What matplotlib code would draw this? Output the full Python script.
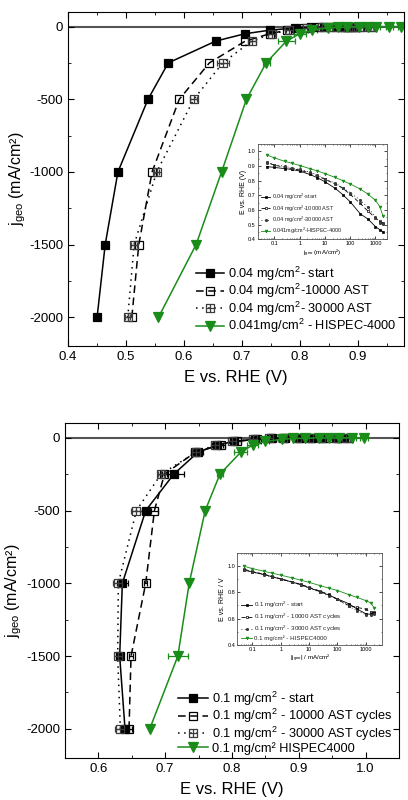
import numpy as np
import matplotlib
import matplotlib.pyplot as plt
from matplotlib.path import Path
from matplotlib.ticker import MultipleLocator, LogLocator, NullFormatter

plt.rcParams['font.family'] = ['Liberation Sans', 'DejaVu Sans']
plt.rcParams['mathtext.fontset'] = 'custom'
plt.rcParams['mathtext.rm'] = 'Liberation Sans'
plt.rcParams['axes.unicode_minus'] = False

# current densities (mA/cm2)
j = [-2000, -1500, -1000, -500, -250, -100, -50, -25, -10, -5, -2.5, -1, -0.5, -0.25, -0.1, -0.05]

# top panel: 0.04 mg/cm2
e_top_start = [0.450, 0.464, 0.486, 0.538, 0.573, 0.655, 0.705, 0.748, 0.792, 0.820, 0.842, 0.865, 0.876, 0.882, 0.890, 0.896]
e_top_10k = [0.510, 0.522, 0.545, 0.592, 0.644, 0.706, 0.748, 0.778, 0.808, 0.833, 0.852, 0.872, 0.882, 0.892, 0.905, 0.925]
e_top_30k = [0.503, 0.514, 0.553, 0.617, 0.667, 0.717, 0.752, 0.782, 0.812, 0.838, 0.858, 0.877, 0.887, 0.897, 0.910, 0.922]
err_top_30k = [0.004, 0.005, 0.004, 0.006, 0.010, 0.007, 0.006, 0.006, 0.008, 0.008, 0.008, 0.008, 0.008, 0.008, 0.008, 0.008]
e_top_hispec = [0.556, 0.621, 0.665, 0.708, 0.742, 0.777, 0.800, 0.822, 0.848, 0.866, 0.882, 0.903, 0.918, 0.932, 0.955, 0.975]
err_top_hispec = [0.000, 0.004, 0.000, 0.000, 0.006, 0.015, 0.010, 0.008, 0.008, 0.006, 0.006, 0.006, 0.006, 0.006, 0.006, 0.006]

# bottom panel: 0.1 mg/cm2
e_bot_start = [0.640, 0.632, 0.636, 0.671, 0.713, 0.749, 0.778, 0.803, 0.834, 0.858, 0.878, 0.900, 0.918, 0.935, 0.955, 0.968]
err_bot_start = [0.006, 0.003, 0.008, 0.005, 0.015, 0.008, 0.008, 0.006, 0.006, 0.006, 0.006, 0.006, 0.006, 0.006, 0.006, 0.006]
e_bot_10k = [0.646, 0.649, 0.671, 0.684, 0.699, 0.745, 0.783, 0.808, 0.838, 0.860, 0.880, 0.902, 0.920, 0.938, 0.958, 0.975]
err_bot_10k = [0.005, 0.003, 0.002, 0.005, 0.004, 0.006, 0.006, 0.006, 0.006, 0.006, 0.006, 0.006, 0.006, 0.006, 0.006, 0.006]
e_bot_30k = [0.633, 0.629, 0.630, 0.657, 0.694, 0.746, 0.775, 0.800, 0.832, 0.856, 0.876, 0.898, 0.916, 0.933, 0.953, 0.970]
err_bot_30k = [0.008, 0.003, 0.008, 0.008, 0.005, 0.006, 0.006, 0.006, 0.006, 0.006, 0.006, 0.006, 0.006, 0.006, 0.006, 0.006]
e_bot_hispec = [0.677, 0.719, 0.736, 0.760, 0.782, 0.813, 0.831, 0.850, 0.875, 0.892, 0.910, 0.930, 0.945, 0.960, 0.980, 0.998]
err_bot_hispec = [0.000, 0.015, 0.000, 0.000, 0.004, 0.010, 0.008, 0.006, 0.006, 0.006, 0.006, 0.006, 0.006, 0.006, 0.006, 0.006]

top_labels = ['0.04 mg/cm$^{\\mathregular{2}}$- start',
              '0.04 mg/cm$^{\\mathregular{2}}$-10000 AST',
              '0.04 mg/cm$^{\\mathregular{2}}$- 30000 AST',
              '0.041mg/cm$^{\\mathregular{2}}$ - HISPEC-4000']
bot_labels = ['0.1 mg/cm$^{\\mathregular{2}}$ - start',
              '0.1 mg/cm$^{\\mathregular{2}}$ - 10000 AST cycles',
              '0.1 mg/cm$^{\\mathregular{2}}$ - 30000 AST cycles',
              '0.1 mg/cm² HISPEC4000']
top_inset_labels = ['0.04 mg/cm$^{\\mathregular{2}}$-start',
                    '0.04 mg/cm$^{\\mathregular{2}}$-10000 AST',
                    '0.04 mg/cm$^{\\mathregular{2}}$-30000 AST',
                    '0.041mg/cm$^{\\mathregular{2}}$-HISPEC-4000']
bot_inset_labels = ['0.1 mg/cm$^{\\mathregular{2}}$ - start',
                    '0.1 mg/cm$^{\\mathregular{2}}$ - 10000 AST cycles',
                    '0.1 mg/cm$^{\\mathregular{2}}$ - 30000 AST cycles',
                    '0.1 mg/cm² - HISPEC4000']

green = '#1a8c1a'
gray = '#3c3c3c'
# square with a plus inside
box_plus = Path([(-1, -1), (1, -1), (1, 1), (-1, 1), (-1, -1), (0, -1), (0, 1), (-1, 0), (1, 0)],
                [1, 2, 2, 2, 79, 1, 2, 1, 2])

styles = [dict(color='black', ls='-', marker='s', mfc='black', mec='black'),
          dict(color='black', ls=(0, (5, 3)), marker='s', mfc='none', mec='black'),
          dict(color='black', ls=(0, (1, 3)), marker=box_plus, mfc='none', mec=gray),
          dict(color=green, ls='-', marker='v', mfc=green, mec=green)]


def style_axes(ax, fs):
    ax.tick_params(which='both', direction='in', top=True, right=True, labelsize=fs)
    ax.tick_params(which='major', length=4)
    ax.tick_params(which='minor', length=2)


def draw_main(ax, series, errs, ms):
    ax.axhline(0, color='#555555', lw=1.5, zorder=1)
    handles = []
    for e, err, st in zip(series, errs, styles):
        h = ax.errorbar(e, j, xerr=err, capsize=2.5, elinewidth=0.9, lw=1.1,
                        ms=ms if st['marker'] != 'v' else ms + 1, mew=0.9,
                        ecolor=st['mec'], **st)
        handles.append(h[0])
    return handles


def draw_inset(ax, series, labels, fs, hl, sp):
    jabs = np.abs(j)
    for e, st, lab in zip(series, styles, labels):
        ax.plot(jabs, e, lw=0.6, ms=2.0, mew=0.5, label=lab, **st)
    ax.set_xscale('log')
    ax.xaxis.set_minor_locator(LogLocator(base=10, subs=np.arange(2, 10), numticks=10))
    ax.xaxis.set_minor_formatter(NullFormatter())
    ax.set_xticks([0.1, 1, 10, 100, 1000])
    ax.set_xticklabels(['0.1', '1', '10', '100', '1000'])
    ax.tick_params(which='both', direction='in', top=True, right=True, labelsize=4, pad=1.5)
    ax.tick_params(which='major', length=2, width=0.5)
    ax.tick_params(which='minor', length=1, width=0.4)
    for s in ax.spines.values():
        s.set_linewidth(0.6)
        s.set_color('#555555')
    ax.legend(loc='lower left', fontsize=fs, frameon=False, handlelength=hl,
              handletextpad=0.3, labelspacing=sp, borderaxespad=0.2, labelcolor='#222222')


fig = plt.figure(figsize=(4.08, 8.0), dpi=100)

# ---------------- top panel
ax1 = fig.add_axes([0.167, 0.567, 0.823, 0.418])
hs = draw_main(ax1, [e_top_start, e_top_10k, e_top_30k, e_top_hispec],
               [None, None, err_top_30k, err_top_hispec], 6)
ax1.set_xlim(0.4, 0.98)
ax1.set_ylim(-2200, 100)
ax1.xaxis.set_major_locator(MultipleLocator(0.1))
ax1.xaxis.set_minor_locator(MultipleLocator(0.05))
ax1.yaxis.set_major_locator(MultipleLocator(500))
ax1.yaxis.set_minor_locator(MultipleLocator(250))
ax1.set_xticks([0.4, 0.5, 0.6, 0.7, 0.8, 0.9])
style_axes(ax1, 9.5)
ax1.set_xlabel('E vs. RHE (V)', fontsize=12, labelpad=5)
ax1.set_ylabel('j$_{\\mathregular{geo}}$ (mA/cm²)', fontsize=11.5, labelpad=1)
ax1.legend(hs, top_labels, loc='lower right', bbox_to_anchor=(1.0, 0.01), fontsize=9.2, frameon=False,
           handlelength=2.2, handletextpad=0.3, labelspacing=-0.05, borderaxespad=0.2)

ins1 = fig.add_axes([0.632, 0.701, 0.316, 0.119])
draw_inset(ins1, [e_top_start, e_top_10k, e_top_30k, e_top_hispec], top_inset_labels, 4.0, 1.6, 0.15)
ins1.set_xlim(0.022, 2800)
ins1.set_ylim(0.4, 1.05)
ins1.yaxis.set_major_locator(MultipleLocator(0.1))
ins1.yaxis.set_minor_locator(MultipleLocator(0.05))
ins1.set_xlabel('j$_{\\mathregular{geo}}$ (mA/cm²)', fontsize=4.5, labelpad=1)
ins1.set_ylabel('E vs. RHE (V)', fontsize=5, labelpad=1)

# ---------------- bottom panel
ax2 = fig.add_axes([0.159, 0.0525, 0.819, 0.4185])
hs = draw_main(ax2, [e_bot_start, e_bot_10k, e_bot_30k, e_bot_hispec],
               [err_bot_start, err_bot_10k, err_bot_30k, err_bot_hispec], 6)
ax2.set_xlim(0.55, 1.05)
ax2.set_ylim(-2200, 100)
ax2.xaxis.set_major_locator(MultipleLocator(0.1))
ax2.xaxis.set_minor_locator(MultipleLocator(0.05))
ax2.yaxis.set_major_locator(MultipleLocator(500))
ax2.yaxis.set_minor_locator(MultipleLocator(250))
ax2.set_xticks([0.6, 0.7, 0.8, 0.9, 1.0])
style_axes(ax2, 9.5)
ax2.set_xlabel('E vs. RHE (V)', fontsize=12, labelpad=5)
ax2.set_ylabel('j$_{\\mathregular{geo}}$ (mA/cm²)', fontsize=11.5, labelpad=1)
ax2.legend(hs, bot_labels, loc='lower right', bbox_to_anchor=(1.0, -0.01), fontsize=9.2, frameon=False,
           handlelength=2.4, handletextpad=0.3, labelspacing=-0.05, borderaxespad=0.1)

ins2 = fig.add_axes([0.582, 0.194, 0.355, 0.115])
draw_inset(ins2, [e_bot_start, e_bot_10k, e_bot_30k, e_bot_hispec], bot_inset_labels, 4.4, 1.8, 0.25)
ins2.set_xlim(0.03, 3800)
ins2.set_ylim(0.4, 1.1)
ins2.yaxis.set_major_locator(MultipleLocator(0.2))
ins2.yaxis.set_minor_locator(MultipleLocator(0.1))
ins2.set_xlabel('|j$_{\\mathregular{geo}}$| / mA/cm²', fontsize=4.5, labelpad=1)
ins2.set_ylabel('E vs. RHE / V', fontsize=5, labelpad=1)

fig.savefig('out.png', dpi=100)
